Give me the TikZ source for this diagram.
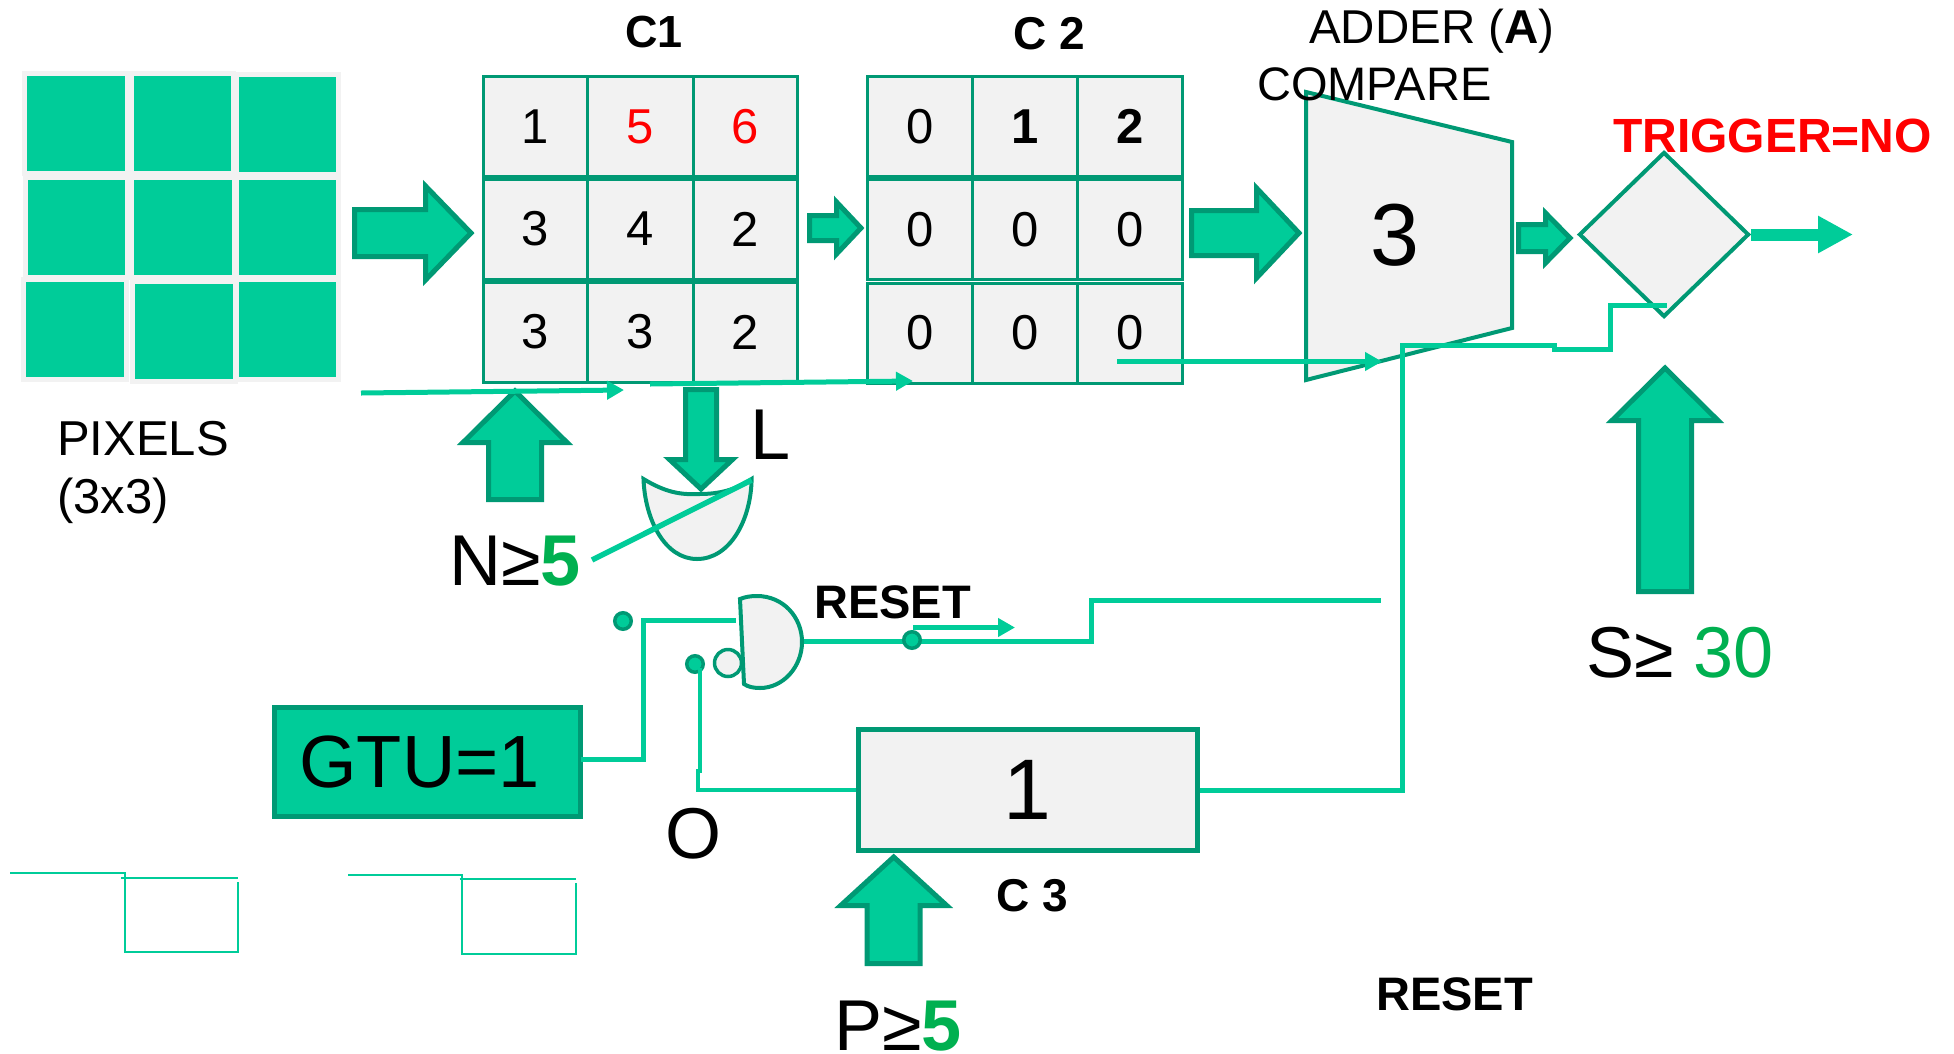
\documentclass[tikz,border=0pt]{standalone}
\usepackage{fontspec}
\setmainfont{Liberation Sans}
\usetikzlibrary{arrows.meta,shapes.geometric}
\definecolor{teal}{HTML}{00CC99}
\definecolor{darkteal}{HTML}{009974}
\definecolor{panel}{HTML}{F2F2F2}
\definecolor{okgreen}{HTML}{00B050}
\newcommand\fsz[1]{\fontsize{#1}{#1}\selectfont}
\tikzset{
  blockarrow/.style={draw=darkteal,fill=teal,line width=5pt,miter limit=20},
  wire/.style={draw=teal,line width=5pt},
  thinwire/.style={draw=teal,line width=2pt},
  flow/.style={draw=teal,line width=5pt,-{Triangle[length=17pt,width=18pt]}},
  gate/.style={draw=darkteal,fill=panel,line width=4pt,line join=miter},
  cellbox/.style={draw=darkteal,fill=panel,line width=3pt,inner sep=0pt,anchor=center,font=\fsz{49}},
  dotmark/.style={circle,draw=darkteal,fill=teal,line width=3.5pt,minimum size=16.5pt,inner sep=0pt},
  txt/.style={inner sep=0pt,anchor=base west,text=black},
  label48/.style={txt,font=\fsz{47}},
  labelbold/.style={txt,font=\fsz{47}\bfseries},
  labelbig/.style={txt,font=\fsz{72}}
}
% block arrows: outer extents are given, the stroke lies inside them
\newcommand\rblock[6]{% x0, xbase, xtip, yc, half shaft, half head
  \draw[blockarrow] ({#1+2.5},{#4-#5+2.5}) -- ({#2+2.5},{#4-#5+2.5}) -- ({#2+2.5},{#4-#6+6}) -- ({#3-4},{#4}) -- ({#2+2.5},{#4+#6-6}) -- ({#2+2.5},{#4+#5-2.5}) -- ({#1+2.5},{#4+#5-2.5}) -- cycle;}
\newcommand\ublock[6]{% xc, ytip, ybase, ybottom, half shaft, half head
  \draw[blockarrow] ({#1-#5+2.5},{#4-2.5}) -- ({#1-#5+2.5},{#3-2.5}) -- ({#1-#6+6},{#3-2.5}) -- ({#1},{#2+4}) -- ({#1+#6-6},{#3-2.5}) -- ({#1+#5-2.5},{#3-2.5}) -- ({#1+#5-2.5},{#4-2.5}) -- cycle;}
\newcommand\dblock[6]{% xc, ytip, ybase, ytop, half shaft, half head
  \draw[blockarrow] ({#1-#5+2.5},{#4+2.5}) -- ({#1-#5+2.5},{#3+2.5}) -- ({#1-#6+6},{#3+2.5}) -- ({#1},{#2-4}) -- ({#1+#6-6},{#3+2.5}) -- ({#1+#5-2.5},{#3+2.5}) -- ({#1+#5-2.5},{#4+2.5}) -- cycle;}
\newcommand\gridcell[6]{% name, xc, yc, w, h, text
  \node[cellbox,minimum width=#4pt,minimum height=#5pt] (#1) at (#2,#3) {\raisebox{-2pt}{#6}};}
\begin{document}
\begin{tikzpicture}[x=1pt,y=-1pt]
\useasboundingbox (0,0) rectangle (1954,1053);

% pixel array
\foreach \xa/\ya/\xb/\yb in {27/76/125/171,134/76/231/171,239/77/336/172,
  28/180/125/275,134/180/232/275,239/180/336/275,
  26/282/124/377,135/284/233/379,239/282/336/377}{
  \fill[panel] ({\xa-5},{\ya-5}) rectangle ({\xb+5},{\yb+5});}
\foreach \xa/\ya/\xb/\yb in {27/76/125/171,134/76/231/171,239/77/336/172,
  28/180/125/275,134/180/232/275,239/180/336/275,
  26/282/124/377,135/284/233/379,239/282/336/377}{
  \fill[teal] (\xa,\ya) rectangle (\xb,\yb);}

\node[label48,font=\fsz{49}] (pixels) at (57,455) {PIXELS};
\node[label48,font=\fsz{49}] (pixdim) at (57,513) {(3x3)};

% block arrows along the top row
\rblock{352}{423}{475}{233}{26}{53}
\rblock{807}{834}{865}{228}{15}{32}
\rblock{1189}{1254}{1303}{233}{25}{51}
\rblock{1516}{1543}{1574}{238}{16}{31}

% C1 counter
\node[labelbold,font=\fsz{45}\bfseries] (c1title) at (625,47) {C1};
\gridcell{a11}{535}{126.5}{104}{100}{1}
\gridcell{a12}{640}{126.5}{106}{100}{\textcolor{red}{5}}
\gridcell{a13}{745}{126.5}{104}{100}{\textcolor{red}{6}}
\gridcell{a21}{535}{229}{104}{100}{3}
\gridcell{a22}{640}{229}{106}{100}{4}
\gridcell{a23}{745}{229}{104}{100}{2}
\gridcell{a31}{535}{332}{104}{100}{3}
\gridcell{a32}{640}{332}{106}{100}{3}
\gridcell{a33}{745}{332}{104}{100}{2}

% C2 counter
\node[labelbold,font=\fsz{46}\bfseries] (c2title) at (1013,49) {C 2};
\gridcell{b11}{920}{126.5}{104.5}{100}{0}
\gridcell{b12}{1025}{126.5}{105}{100}{\textbf{1}}
\gridcell{b13}{1130}{126.5}{104.5}{100}{\textbf{2}}
\gridcell{b21}{920}{229.5}{104.5}{100}{0}
\gridcell{b22}{1025}{229.5}{105}{100}{0}
\gridcell{b23}{1130}{229.5}{104.5}{100}{0}
\gridcell{b31}{920}{333}{104.5}{100}{0}
\gridcell{b32}{1025}{333}{105}{100}{0}
\gridcell{b33}{1130}{333}{104.5}{100}{0}

% adder
\coordinate (addTL) at (1306,92);
\coordinate (addTR) at (1512,142);
\coordinate (addBR) at (1512,328);
\coordinate (addBL) at (1306,380);
\draw[gate] (addTL) -- (addTR) -- (addBR) -- (addBL) -- cycle;
\node[inner sep=0pt,font=\fsz{88}] (addval) at (1395,235) {3};
\node[label48,font=\fsz{47.5}] (addertxt) at (1309,43) {ADDER (\textbf{A})};
\node[label48] (comparetxt) at (1257,100) {COMPARE};

% comparator diamond
\node[diamond,draw=darkteal,fill=panel,line width=4pt,minimum width=170pt,minimum height=165pt,inner sep=0pt] (dia) at (1664,234.5) {};
\node[labelbold,font=\fsz{48}\bfseries,text=red] (trigger) at (1613,152) {TRIGGER=NO};
\coordinate (outtip) at (1853,234.5);
\draw[draw=teal,line width=12pt,-{Triangle[length=35pt,width=35pt]}] (dia.east) -- (outtip);

% clock lines under the counters
\ublock{515}{387}{445}{502}{29}{58}
\coordinate (clkAa) at (361,393);
\coordinate (clkAb) at (624,390);
\coordinate (clkBa) at (650,384);
\coordinate (clkBb) at (913,381);
\coordinate (clkCa) at (1117,361.5);
\coordinate (clkCb) at (1382,361.5);
\draw[flow] (clkAa) -- (clkAb);
\draw[flow] (clkBa) -- (clkBb);
\draw[flow] (clkCa) -- (clkCb);

% OR gate and its inputs
\draw[gate] (643.5,479) .. controls (665,492) and (680,495) .. (699,494) .. controls (720,494) and (735,490) .. (751.6,479) .. controls (751,520) and (730,559) .. (697,559) .. controls (665,559) and (645,520) .. (643.5,479) -- cycle;
\dblock{701}{493}{457}{387}{18}{37.5}
\node[labelbig] (ltxt) at (750,459) {L};
\node[labelbig] (ntxt) at (449,585) {N≥\textcolor{okgreen}{\textbf{5}}};
\coordinate (orA) at (592,560);
\coordinate (orB) at (751.6,480);
\draw[wire,line width=5.5pt] (orA) -- (orB);

% gate with inverted input
\node[circle,draw=darkteal,fill=panel,line width=3.5pt,minimum size=27pt,inner sep=0pt] (bubble) at (728,663) {};
\draw[gate] (740,599) .. controls (745,597) and (750,596) .. (757,596) .. controls (783,596) and (802,617) .. (802,642) .. controls (802,667) and (783,688) .. (760,688) .. controls (754,688) and (748,687) .. (744,684) -- cycle;
\coordinate (gateOut) at (804,641);
\coordinate (gateInA) at (736,620.5);

% boxes
\node[draw=darkteal,fill=teal,line width=5pt,minimum width=306pt,minimum height=109pt,inner sep=0pt,font=\fsz{74}] (gtu) at (427.5,762) {\hspace*{-16pt}GTU=1};
\coordinate (gtuOut) at (581,759);
\node[draw=darkteal,fill=panel,line width=5pt,minimum width=338.5pt,minimum height=121pt,inner sep=0pt,font=\fsz{86}] (cthree) at (1027.75,790) {\raisebox{-3pt}{1}};

% wires
\draw[wire] (gtuOut) -- (643,759) -- (643,620.5) -- (gateInA);
\node[dotmark] (dotA) at (623,621) {};
\node[dotmark] (dotB) at (695,664) {};
\coordinate (dotBwire) at (700,668);
\draw[wire,line width=4.5pt] (cthree.west) -- (698,790) -- (698,771) -- (700,771) -- (dotBwire);
\coordinate (rstEnd) at (1381,600.5);
\draw[wire] (gateOut) -- (1091,641) -- (1091,600.5) -- (rstEnd);
\node[dotmark] (dotC) at (912,640) {};
\coordinate (rstA) at (913,627.5);
\coordinate (rstB) at (1015,627.5);
\draw[flow] (rstA) -- (rstB);
\coordinate (cmpEnd) at (1667,305);
\draw[wire,line join=miter] (cthree.east) -- (1402,790) -- (1402,345.7) -- (1554,345.7) -- (1554,349) -- (1610,349) -- (1610,305) -- (cmpEnd);

% remaining block arrows and labels
\ublock{893.7}{853}{908}{966}{29}{59}
\ublock{1665}{364}{423}{594}{29}{59}
\node[labelbig] (ptxt) at (834,1050) {P≥\textcolor{okgreen}{\textbf{5}}};
\node[labelbig] (stxt) at (1586,677) {S≥ \textcolor{okgreen}{30}};
\node[labelbig] (otxt) at (665,858) {O};
\node[labelbold] (resetA) at (814,618) {RESET};
\node[labelbold] (resetB) at (1376,1010) {RESET};
\node[labelbold,font=\fsz{46}\bfseries] (c3title) at (996,911) {C 3};

% timing sketches
\coordinate (wfAs) at (10,873.3);
\coordinate (wfAe) at (238,881.7);
\coordinate (wfAts) at (121.4,877.7);
\coordinate (wfAte) at (238,877.7);
\draw[thinwire] (wfAs) -- (124.5,873.3) -- (124.5,951.7) -- (238,951.7) -- (wfAe);
\draw[thinwire] (wfAts) -- (wfAte);
\coordinate (wfBs) at (348,875);
\coordinate (wfBe) at (575.7,883.3);
\coordinate (wfBts) at (459.5,879);
\coordinate (wfBte) at (575.7,879);
\draw[thinwire] (wfBs) -- (462,875) -- (462,953.7) -- (575.7,953.7) -- (wfBe);
\draw[thinwire] (wfBts) -- (wfBte);
\end{tikzpicture}
\end{document}
